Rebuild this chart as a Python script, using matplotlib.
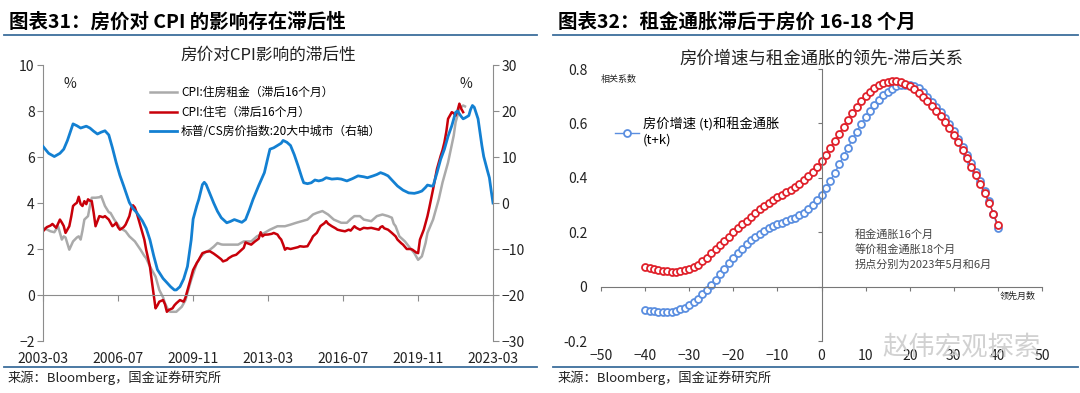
import numpy as np
import matplotlib
matplotlib.use("Agg")
import matplotlib.pyplot as plt
import matplotlib.dates as mdates
from matplotlib.lines import Line2D

plt.rcParams['font.family'] = ['Noto Sans CJK SC', 'DejaVu Sans']
plt.rcParams['axes.unicode_minus'] = True

# ---------- left chart: months since 2003-03 ----------
START = np.datetime64('2003-03', 'M')

hpi_m = [0, 3, 6, 9, 11, 13, 16, 18, 20, 23, 25, 27, 29, 31, 33, 35, 37, 39, 41, 43,
         46, 48, 50, 53, 55, 57, 59, 61, 64, 66, 68, 70, 71, 73, 75, 77, 79, 80, 82, 83,
         85, 86, 87, 89, 91, 93, 95, 98, 100, 102, 104, 106, 108, 110, 112, 115, 118, 120, 121, 123,
         125, 127, 128, 130, 132, 134, 136, 138, 139, 141, 143, 145, 147, 149, 151, 154, 157, 159, 162, 165,
         168, 171, 173, 176, 178, 180, 182, 184, 186, 189, 192, 195, 198, 200, 202, 204, 205, 207, 208, 210,
         212, 214, 216, 218, 220, 221, 223, 224, 225, 227, 228, 229, 230, 232, 234, 235, 237, 238, 239, 240]
hpi = [12.3, 10.8, 10.1, 10.8, 11.7, 13.6, 17.2, 16.8, 16.3, 16.7, 16.3, 15.6, 15.0, 15.4, 15.7, 14.8, 12.0, 8.8, 6.0, 3.7,
       0.1, -1.2, -2.1, -3.9, -5.5, -8.0, -11.5, -14.5, -16.4, -17.3, -18.2, -18.9, -18.9, -18.2, -16.5, -13.8, -8.0, -3.5, -0.5, 0.8,
       4.0, 4.5, 4.0, 2.0, 0.0, -1.8, -3.2, -4.3, -4.0, -3.6, -3.9, -4.2, -3.6, -1.5, 0.8, 3.8, 6.6, 10.0, 11.7, 12.0,
       12.5, 13.0, 13.6, 13.2, 12.5, 10.5, 8.1, 5.5, 4.4, 4.2, 4.4, 5.0, 4.8, 5.0, 5.5, 5.2, 5.3, 5.2, 4.8, 5.3,
       5.9, 5.7, 5.5, 5.9, 6.2, 6.6, 6.3, 5.9, 5.0, 3.7, 2.8, 2.2, 2.1, 2.3, 2.6, 3.4, 3.9, 3.7, 3.7, 6.5,
       9.5, 11.7, 14.5, 16.8, 19.7, 20.0, 18.8, 18.3, 18.5, 19.0, 20.3, 21.2, 20.8, 18.3, 12.5, 10.1, 7.0, 5.5, 2.5, 0.0]

house_m = [0, 2, 4, 5, 7, 9, 10, 11, 12, 14, 15, 16, 17, 18, 19, 20, 21, 22, 23, 24,
           25, 26, 27, 28, 29, 30, 32, 33, 35, 37, 38, 39, 40, 41, 43, 44, 46, 47, 48, 49,
           50, 52, 54, 55, 57, 58, 59, 60, 61, 62, 64, 65, 66, 67, 69, 70, 71, 73, 75, 76,
           77, 78, 79, 80, 82, 83, 85, 87, 89, 91, 93, 95, 96, 98, 99, 101, 103, 105, 107, 108,
           109, 111, 113, 115, 116, 117, 118, 120, 122, 123, 125, 126, 127, 128, 129, 130, 132, 134, 136, 137,
           139, 141, 143, 144, 146, 148, 150, 151, 152, 154, 156, 157, 159, 161, 163, 164, 166, 167, 169, 171,
           173, 175, 177, 179, 180, 181, 182, 184, 186, 188, 189, 191, 192, 194, 196, 197, 199, 200, 201, 203,
           205, 206, 208, 210, 212, 213, 214, 215, 216, 218, 219, 220, 221, 222, 223, 224]
house = [2.77, 2.95, 3.02, 3.09, 2.92, 3.28, 3.15, 3.0, 2.70, 2.99, 3.4, 3.87, 3.95, 4.01, 4.27, 3.95, 3.87, 4.08, 3.95, 4.16,
         4.10, 4.08, 3.57, 2.99, 3.21, 3.43, 3.38, 3.43, 3.28, 2.99, 3.05, 3.14, 2.95, 2.84, 2.95, 3.06, 3.43, 3.79, 3.9, 3.80,
         3.57, 2.99, 2.41, 1.97, 1.24, 0.6, 0.0, -0.58, -0.45, -0.29, -0.22, -0.4, -0.73, -0.65, -0.58, -0.45, -0.36, -0.22, -0.29, -0.1,
         0.2, 0.51, 0.8, 1.09, 1.4, 1.53, 1.82, 1.88, 1.9, 1.8, 1.68, 1.55, 1.46, 1.52, 1.60, 1.70, 1.75, 1.9, 2.05, 2.29,
         2.25, 2.19, 2.33, 2.45, 2.73, 2.55, 2.62, 2.63, 2.66, 2.70, 2.63, 2.5, 2.41, 2.2, 1.97, 2.04, 2.0, 2.04, 2.08, 2.12,
         2.1, 2.12, 2.4, 2.55, 2.70, 3.0, 3.12, 3.21, 3.1, 2.99, 2.9, 2.84, 2.80, 2.77, 2.84, 2.80, 2.99, 2.92, 2.84, 2.92,
         2.90, 2.92, 2.88, 2.84, 2.95, 2.99, 2.90, 2.84, 2.70, 2.55, 2.41, 2.25, 2.19, 2.00, 2.0, 1.97, 1.85, 1.82, 2.41, 2.84,
         3.43, 3.8, 4.60, 5.47, 6.05, 6.3, 6.64, 7.1, 7.66, 7.95, 7.9, 7.80, 8.0, 8.32, 8.1, 7.95]

rent_m = [0, 2, 4, 6, 8, 10, 11, 12, 14, 16, 18, 19, 20, 21, 22, 24, 25, 26, 28, 30,
          31, 33, 35, 36, 38, 40, 41, 44, 46, 49, 52, 54, 55, 57, 60, 62, 64, 65, 67, 68,
          71, 74, 76, 77, 79, 82, 84, 86, 89, 91, 93, 95, 96, 100, 104, 107, 111, 114, 118, 121,
          125, 129, 132, 135, 138, 141, 144, 146, 149, 152, 155, 159, 162, 164, 166, 169, 171, 175, 178, 181,
          184, 186, 187, 188, 190, 193, 195, 198, 200, 202, 204, 205, 208, 211, 213, 216, 219, 220, 221, 222,
          224, 225]
rent = [2.92, 2.85, 2.77, 2.73, 2.99, 2.41, 2.55, 2.5, 1.97, 2.33, 2.5, 2.55, 2.41, 2.8, 3.28, 3.43, 3.87, 4.23, 4.23, 4.25,
        4.30, 3.87, 3.6, 3.57, 3.28, 3.05, 2.92, 2.77, 2.55, 2.33, 1.97, 1.7, 1.6, 1.24, 0.80, 0.22, -0.1, -0.36, -0.7, -0.73,
        -0.73, -0.51, -0.22, 0.1, 0.66, 1.39, 1.65, 1.82, 1.97, 2.1, 2.26, 2.2, 2.19, 2.19, 2.19, 2.33, 2.33, 2.55, 2.70, 2.84,
        2.99, 2.99, 3.06, 3.14, 3.21, 3.28, 3.50, 3.57, 3.65, 3.50, 3.28, 3.14, 3.14, 3.3, 3.43, 3.43, 3.28, 3.21, 3.43, 3.50,
        3.43, 3.36, 3.1, 2.99, 2.55, 2.33, 2.12, 1.82, 1.53, 1.68, 2.26, 2.70, 3.28, 4.16, 4.89, 5.76, 6.93, 7.5, 7.80, 8.10,
        8.24, 8.2]

left_ticks = ['2003-03', '2006-07', '2009-11', '2013-03', '2016-07', '2019-11', '2023-03']

# ---------- right chart: lead/lag correlation ----------
lag_k = list(range(-40, 41))
corr_rent = [0.071, 0.068, 0.064, 0.061, 0.058, 0.056, 0.055, 0.055, 0.057, 0.060,
             0.065, 0.072, 0.081, 0.093, 0.107, 0.122, 0.138, 0.153, 0.169, 0.184,
             0.199, 0.214, 0.229, 0.243, 0.257, 0.270, 0.284, 0.297, 0.309, 0.319,
             0.328, 0.337, 0.346, 0.356, 0.367, 0.379, 0.392, 0.406, 0.422, 0.441,
             0.462, 0.485, 0.510, 0.536, 0.562, 0.588, 0.613, 0.637, 0.660, 0.681,
             0.700, 0.716, 0.730, 0.741, 0.749, 0.754, 0.756, 0.755, 0.752, 0.746,
             0.737, 0.726, 0.712, 0.697, 0.681, 0.664, 0.646, 0.626, 0.605, 0.582,
             0.557, 0.530, 0.502, 0.472, 0.441, 0.410, 0.378, 0.344, 0.308, 0.268, 0.226]
corr_oer = [-0.086, -0.089, -0.091, -0.092, -0.093, -0.093, -0.092, -0.089, -0.084, -0.077,
            -0.068, -0.057, -0.044, -0.029, -0.012, 0.006, 0.025, 0.045, 0.065, 0.085,
            0.104, 0.122, 0.139, 0.155, 0.170, 0.183, 0.195, 0.205, 0.214, 0.222,
            0.229, 0.235, 0.241, 0.247, 0.254, 0.262, 0.272, 0.284, 0.299, 0.317,
            0.338, 0.362, 0.389, 0.418, 0.449, 0.480, 0.511, 0.541, 0.570, 0.598,
            0.624, 0.647, 0.668, 0.687, 0.703, 0.717, 0.728, 0.736, 0.741, 0.743,
            0.743, 0.739, 0.729, 0.714, 0.697, 0.680, 0.662, 0.642, 0.621, 0.598,
            0.572, 0.544, 0.515, 0.485, 0.454, 0.421, 0.387, 0.351, 0.313, 0.268, 0.214]

GRAY = '#aaaaaa'
RED = '#c8000a'
BLUE = '#1380d2'
AX = '#8c8c8c'
TXT = '#222222'

fig = plt.figure(figsize=(10.8, 3.93), dpi=100)

# headers / separators
fig.text(0.008, 0.944, '图表31：房价对 CPI 的影响存在滞后性', fontsize=14, fontweight='bold',
         style='italic', color='black', va='center')
fig.text(0.517, 0.944, '图表32：租金通胀滞后于房价 16-18 个月', fontsize=14, fontweight='bold',
         style='italic', color='black', va='center')
for x0, x1 in [(0.004, 0.497), (0.512, 0.998)]:
    fig.add_artist(Line2D([x0, x1], [0.912, 0.912], color='#3d6e9c', lw=1.3, transform=fig.transFigure))
    fig.add_artist(Line2D([x0, x1], [0.065, 0.065], color='#3d6e9c', lw=1.3, transform=fig.transFigure))
fig.text(0.007, 0.040, '来源：Bloomberg，国金证券研究所', fontsize=9.5, color=TXT, va='center')
fig.text(0.516, 0.040, '来源：Bloomberg，国金证券研究所', fontsize=9.5, color=TXT, va='center')

# ---------- left chart ----------
ax = fig.add_axes([0.0398, 0.1323, 0.4167, 0.7023])
axr = ax.twinx()

d_house = START + np.array(house_m).astype('timedelta64[M]')
d_rent = START + np.array(rent_m).astype('timedelta64[M]')
d_hpi = START + np.array(hpi_m).astype('timedelta64[M]')

l1, = ax.plot(d_rent, rent, color=GRAY, lw=1.8, label='CPI:住房租金（滞后16个月）')
l2, = ax.plot(d_house, house, color=RED, lw=1.8, label='CPI:住宅（滞后16个月）')
l3, = axr.plot(d_hpi, hpi, color=BLUE, lw=2.0, label='标普/CS房价指数:20大中城市（右轴）')

ax.set_ylim(-2, 10)
ax.set_yticks(range(-2, 11, 2))
axr.set_ylim(-30, 30)
axr.set_yticks(range(-30, 31, 10))
tick_dates = [np.datetime64(t, 'M') for t in left_ticks]
ax.set_xlim(tick_dates[0], tick_dates[-1])
ax.set_xticks(tick_dates)
ax.tick_params(axis='x', labelbottom=False, direction='out', length=4, color=AX)

for s in ['top', 'right']:
    ax.spines[s].set_visible(False)
for s in ['top', 'left', 'bottom']:
    axr.spines[s].set_visible(False)
ax.spines['bottom'].set_position(('data', 0))
ax.spines['bottom'].set_color(AX)
ax.spines['left'].set_color(AX)
axr.spines['right'].set_color(AX)
ax.tick_params(axis='y', length=4, color=AX, labelsize=10, labelcolor=TXT, pad=2)
axr.tick_params(axis='y', length=4, color=AX, labelsize=10, labelcolor=TXT, pad=2)

secx = ax.secondary_xaxis(0.0)
secx.set_xticks(tick_dates)
secx.xaxis.set_major_formatter(mdates.DateFormatter('%Y-%m'))
secx.spines['bottom'].set_visible(False)
secx.tick_params(length=0, labelsize=10, labelcolor=TXT, pad=8)

ax.set_title('房价对CPI影响的滞后性', fontsize=12, color=TXT, pad=4)
ax.text(0.045, 0.955, '%', transform=ax.transAxes, fontsize=10, color=TXT, va='top')
ax.text(0.925, 0.955, '%', transform=ax.transAxes, fontsize=10, color=TXT, va='top')
axr.legend(handles=[l1, l2, l3], loc='upper left', bbox_to_anchor=(0.228, 0.94),
           frameon=False, fontsize=8.5, handlelength=2.3, handletextpad=0.3,
           labelspacing=0.55, borderaxespad=0)

# ---------- right chart ----------
bx = fig.add_axes([0.5565, 0.1323, 0.4083, 0.6921])
bx.plot(lag_k, corr_oer, color='#5a8ee0', lw=1.0, marker='o', ms=5, mfc='white',
        mec='#5a8ee0', mew=1.3, label='房价增速 (t)和租金通胀\n(t+k)')
bx.plot(lag_k, corr_rent, color='#e0202a', lw=1.0, marker='o', ms=5, mfc='white',
        mec='#e0202a', mew=1.3)
bx.set_xlim(-50, 50)
bx.set_ylim(-0.2, 0.8)
bx.set_xticks(range(-50, 51, 10))
bx.set_yticks([-0.2, 0, 0.2, 0.4, 0.6, 0.8])
for s in ['top', 'right']:
    bx.spines[s].set_visible(False)
bx.spines['left'].set_position(('data', 0))
bx.spines['bottom'].set_position(('data', 0))
bx.spines['left'].set_color('#777777')
bx.spines['bottom'].set_color('#777777')
bx.tick_params(length=3, color='#777777', labelleft=False, labelbottom=False)

secy = bx.secondary_yaxis(0.0)
secy.set_yticks([-0.2, 0, 0.2, 0.4, 0.6, 0.8])
secy.set_yticklabels(['-0.2', '0', '0.2', '0.4', '0.6', '0.8'])
secy.spines['left'].set_visible(False)
secy.tick_params(length=0, labelsize=10, labelcolor=TXT, pad=10)
secx2 = bx.secondary_xaxis(0.0)
secx2.set_xticks(range(-50, 51, 10))
secx2.spines['bottom'].set_visible(False)
secx2.tick_params(length=0, labelsize=10, labelcolor=TXT, pad=6)

bx.set_title('房价增速与租金通胀的领先-滞后关系', fontsize=12.5, color=TXT, pad=4)
bx.text(0.0, 0.96, '相关系数', transform=bx.transAxes, fontsize=6.5, color=TXT, va='center')
bx.text(0.905, 0.165, '领先月数', transform=bx.transAxes, fontsize=6.5, color=TXT, va='center')
bx.text(0.575, 0.262, '租金通胀16个月\n等价租金通胀18个月\n拐点分别为2023年5月和6月',
        transform=bx.transAxes, fontsize=8, color='#444444', va='bottom', linespacing=1.5)
bx.legend(loc='upper left', bbox_to_anchor=(0.02, 0.84), frameon=False, fontsize=9.5,
          handlelength=1.8, handletextpad=0.3, borderaxespad=0)
fig.text(0.817, 0.118, '赵伟宏观探索', fontsize=19, color='#cccccc', va='center', alpha=0.9)

fig.savefig('out.png', dpi=100)
